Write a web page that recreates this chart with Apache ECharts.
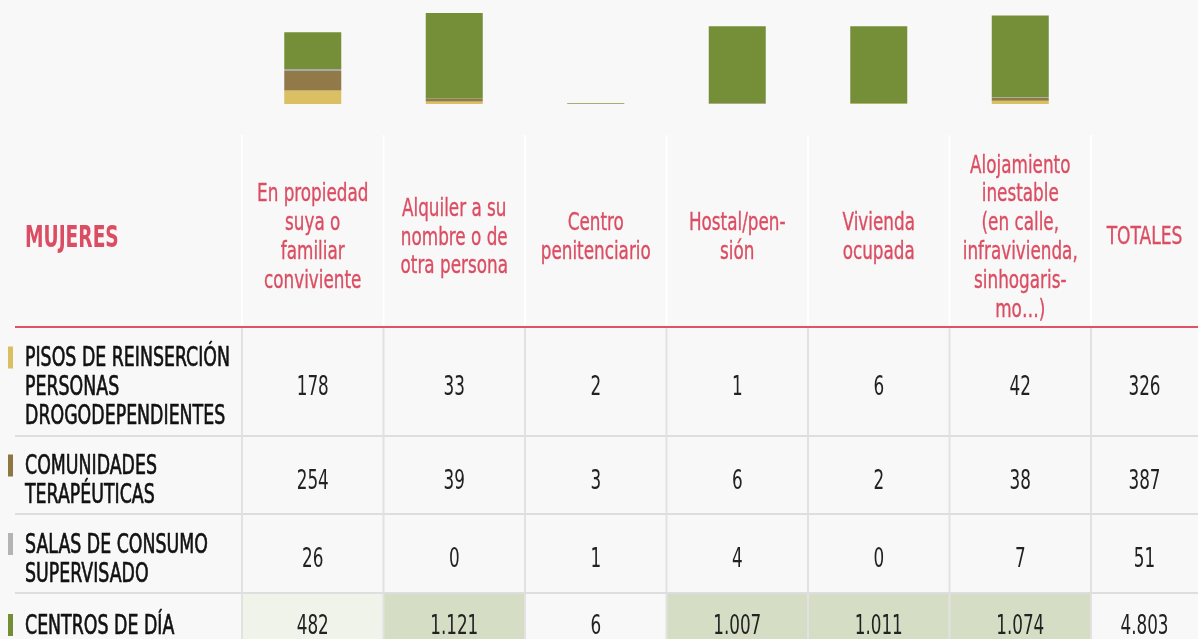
<!DOCTYPE html>
<html>
<head>
<meta charset="utf-8">
<script src="https://cdn.jsdelivr.net/npm/echarts/dist/echarts.min.js"></script>
<style>
  html, body { margin: 0; padding: 0; background: #f8f8f8; }
  #chart { width: 1198px; height: 639px; }
</style>
</head>
<body>
<div id="chart"></div>
<script>
// ---------- DATA ----------
const TABLE_TITLE = 'MUJERES';
const TOTAL_LABEL = 'TOTALES';
const CATEGORIES = [
  'En propiedad\nsuya o\nfamiliar\nconviviente',
  'Alquiler a su\nnombre o de\notra persona',
  'Centro\npenitenciario',
  'Hostal/pen-\nsión',
  'Vivienda\nocupada',
  'Alojamiento\ninestable\n(en calle,\ninfravivienda,\nsinhogaris-\nmo…)'
];
const ROW_NAMES = [
  'PISOS DE REINSERCIÓN\nPERSONAS\nDROGODEPENDIENTES',
  'COMUNIDADES\nTERAPÉUTICAS',
  'SALAS DE CONSUMO\nSUPERVISADO',
  'CENTROS DE DÍA'
];
const PISOS       = [178, 33, 2, 1, 6, 42];
const COMUNIDADES = [254, 39, 3, 6, 2, 38];
const SALAS       = [26, 0, 1, 4, 0, 7];
const CENTROS     = [482, 1121, 6, 1007, 1011, 1074];
const TOTALES     = [326, 387, 51, 4803];

// ---------- STYLE / LAYOUT ----------
const SERIES_COLORS = ['#dbbf63', '#917a48', '#aaaaaa', '#748f38'];
const MARKER_COLORS = ['#dbbe5f', '#8f7744', '#b4b4b4', '#758e35'];
const RED = '#db4d62';
const FONT = '"DejaVu Sans Condensed", "DejaVu Sans", sans-serif';
const CHART_W = 1198;
const CHART_H = 639;
const TABLE_TOP = 135;
const TABLE_LEFT = 15;
const HEADER_H = 192;
const ROW_H = [109, 78, 79, 54];
const TEXT_DY = 7;

const ROWS = [PISOS, COMUNIDADES, SALAS, CENTROS];
const ROW_EDGES = [0, HEADER_H];
ROW_H.forEach(h => ROW_EDGES.push(ROW_EDGES[ROW_EDGES.length - 1] + h));
const TABLE_SPAN = ROW_EDGES[ROW_EDGES.length - 1];
const VISIBLE_SPAN = CHART_H - TABLE_TOP;

const stackMax = Math.max(...CATEGORIES.map((_, i) => ROWS.reduce((s, r) => s + r[i], 0)));

function fmt(v) { return String(v).replace(/\B(?=(\d{3})+(?!\d))/g, '.'); }

function colSpan(params, api, col) {
  const cs = params.coordSys;
  if (col < 0) return [TABLE_LEFT, cs.x];
  if (col >= CATEGORIES.length) return [cs.x + cs.width, CHART_W];
  const c = api.coord([col, 0])[0];
  const bw = api.size([1, 0])[0];
  return [c - bw / 2, c + bw / 2];
}
function rowSpan(api, row) {
  return [api.coord([0, ROW_EDGES[row + 1]])[1], api.coord([0, ROW_EDGES[row + 2]])[1]];
}
function txt(x, y, text, o) {
  const style = {
    text: text, x: 0, y: 0, align: o.align || 'center', verticalAlign: 'middle',
    fill: o.fill, fontFamily: FONT, fontSize: o.size, fontWeight: o.weight || 'normal',
    lineHeight: o.lh
  };
  if (o.stroke) { style.stroke = o.fill; style.lineWidth = o.stroke; }
  return { type: 'text', x: x, y: y, scaleX: o.sx || 1, scaleY: o.sy || 1, style: style };
}
function shade(v, isTotal) {
  if (isTotal) return null;
  if (v >= 1000) return '#d5dec5';
  if (v >= 400) return '#f0f3e9';
  return null;
}

const cellData = [];
ROWS.forEach((arr, r) => arr.forEach((v, c) => cellData.push([c, r, v, 0])));
TOTALES.forEach((v, r) => cellData.push([CATEGORIES.length, r, v, 1]));

const headerData = [[-1], ...CATEGORIES.map((_, i) => [i]), [CATEGORIES.length]];
const labelData = ROW_NAMES.map((_, i) => [0, i]);

const barSeries = ROWS.map((arr, i) => ({
  type: 'bar', name: ROW_NAMES[i], stack: 'total', data: arr,
  xAxisIndex: 0, yAxisIndex: 0, barWidth: 57,
  itemStyle: { color: SERIES_COLORS[i] }, silent: true
}));

const option = {
  backgroundColor: '#f8f8f8',
  animation: false,
  grid: [
    { left: 242, width: 849, top: 13, height: 91 },
    { left: 242, width: 849, top: TABLE_TOP, height: VISIBLE_SPAN }
  ],
  xAxis: [
    { type: 'category', gridIndex: 0, data: CATEGORIES, show: false },
    { type: 'category', gridIndex: 1, data: CATEGORIES, show: false }
  ],
  yAxis: [
    { type: 'value', gridIndex: 0, min: 0, max: stackMax, show: false },
    { type: 'value', gridIndex: 1, min: 0, max: VISIBLE_SPAN, inverse: true, show: false }
  ],
  series: [
    ...barSeries,
    {
      type: 'custom', name: 'cells', xAxisIndex: 1, yAxisIndex: 1, silent: true, z: 1, clip: false,
      data: cellData,
      renderItem: function (params, api) {
        const col = api.value(0), row = api.value(1), v = api.value(2), tot = api.value(3) === 1;
        const xs = colSpan(params, api, col), ys = rowSpan(api, row);
        const children = [];
        const f = shade(v, tot);
        if (f) children.push({ type: 'rect', shape: { x: xs[0], y: ys[0], width: xs[1] - xs[0], height: ys[1] - ys[0] }, style: { fill: f } });
        children.push(txt((xs[0] + xs[1]) / 2, (ys[0] + ys[1]) / 2 + TEXT_DY, fmt(v), { size: 22, sx: 0.85, sy: 1.2, fill: '#222' }));
        return { type: 'group', children: children };
      }
    },
    {
      type: 'custom', name: 'rowLabels', xAxisIndex: 1, yAxisIndex: 1, silent: true, z: 3, clip: false,
      data: labelData,
      renderItem: function (params, api) {
        const row = api.value(1);
        const ys = rowSpan(api, row);
        const text = ROW_NAMES[row];
        const n = text.split('\n').length;
        const cy = (ys[0] + ys[1]) / 2 + TEXT_DY;
        const first = cy - (n - 1) / 2 * 29;
        return { type: 'group', children: [
          { type: 'rect', shape: { x: 8, y: first - 13, width: 5, height: 22 }, style: { fill: MARKER_COLORS[row] } },
          txt(25, cy, text, { size: 21, sx: 0.92, sy: 1.25, lh: 29 / 1.25, fill: '#111', align: 'left', stroke: 0.5 })
        ] };
      }
    },
    {
      type: 'custom', name: 'headers', xAxisIndex: 1, yAxisIndex: 1, silent: true, z: 3, clip: false,
      data: headerData,
      renderItem: function (params, api) {
        const col = api.value(0);
        const xs = colSpan(params, api, col), ys = rowSpan(api, -1);
        const cy = (ys[0] + ys[1]) / 2 + TEXT_DY;
        if (col < 0) return txt(25, cy + 1, TABLE_TITLE, { size: 23, sx: 0.9, sy: 1.28, fill: RED, align: 'left', weight: 'bold' });
        if (col >= CATEGORIES.length) return txt((xs[0] + xs[1]) / 2, cy, TOTAL_LABEL, { size: 20, sx: 0.95, sy: 1.22, fill: RED, stroke: 0.3 });
        return txt((xs[0] + xs[1]) / 2, cy, CATEGORIES[col], { size: 21, sx: 0.89, sy: 1.2, lh: 28.8 / 1.2, fill: RED, stroke: 0.3 });
      }
    },
    {
      type: 'custom', name: 'lines', xAxisIndex: 1, yAxisIndex: 1, silent: true, z: 2, clip: false,
      data: [[0, 0]],
      renderItem: function (params, api) {
        const cs = params.coordSys;
        const children = [];
        const hdr = rowSpan(api, -1);
        const bodyTop = hdr[1], bodyBot = api.coord([0, TABLE_SPAN])[1];
        for (let c = 0; c <= CATEGORIES.length; c++) {
          const x = c < CATEGORIES.length ? colSpan(params, api, c)[0] : cs.x + cs.width;
          children.push({ type: 'line', shape: { x1: x, y1: hdr[0], x2: x, y2: hdr[1] }, style: { stroke: '#ffffff', lineWidth: 2 } });
          children.push({ type: 'line', shape: { x1: x, y1: bodyTop, x2: x, y2: bodyBot }, style: { stroke: '#e2e2e2', lineWidth: 2 } });
        }
        for (let r = 1; r < ROW_H.length; r++) {
          const y = rowSpan(api, r)[0];
          children.push({ type: 'line', shape: { x1: TABLE_LEFT, y1: y, x2: CHART_W, y2: y }, style: { stroke: '#dedede', lineWidth: 2 } });
        }
        children.push({ type: 'line', shape: { x1: TABLE_LEFT, y1: bodyTop, x2: CHART_W, y2: bodyTop }, style: { stroke: '#df5368', lineWidth: 2 } });
        return { type: 'group', children: children };
      }
    }
  ]
};

const chart = echarts.init(document.getElementById('chart'), null, { renderer: 'canvas' });
chart.setOption(option);
</script>
</body>
</html>
